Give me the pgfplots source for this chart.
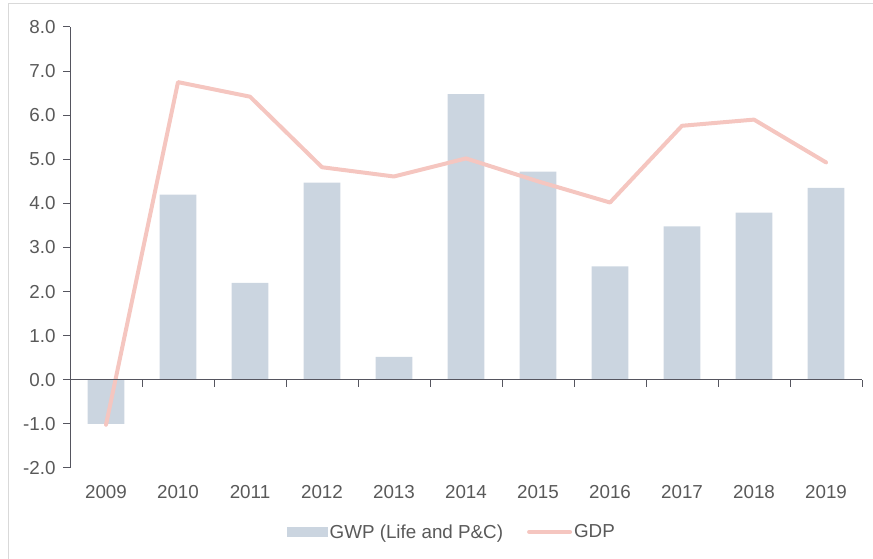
\documentclass[border=0pt]{standalone}
\usepackage{pgfplots}
\pgfplotsset{compat=1.18}
\usepackage{fontspec}
\setmainfont{Liberation Sans}
\definecolor{barcol}{HTML}{CBD5E0}
\definecolor{linecol}{HTML}{F5C6C0}
\definecolor{axcol}{HTML}{55555F}
\definecolor{txtcol}{HTML}{595959}
\definecolor{framecol}{HTML}{D9D9D9}
\begin{document}
\begin{tikzpicture}
\useasboundingbox (0pt,0pt) rectangle (873pt,559pt);
\draw[framecol, line width=1pt] (8.5pt,0pt) -- (8.5pt,555pt) -- (873pt,555pt);
\begin{axis}[
  at={(70pt,91pt)}, anchor=south west,
  scale only axis, width=792pt, height=441pt,
  xmin=-0.5, xmax=10.5, ymin=-2, ymax=8,
  axis y line*=left, axis x line*=bottom,
  x axis line style={draw=none},
  y axis line style={draw=axcol, line width=1pt},
  xtick={0,...,10},
  xticklabels={2009,2010,2011,2012,2013,2014,2015,2016,2017,2018,2019},
  x tick style={draw=none},
  ytick={-2,-1,0,1,2,3,4,5,6,7,8},
  y tick style={draw=axcol, line width=1pt},
  tick align=outside, major tick length=7pt,
  /pgf/number format/fixed, /pgf/number format/fixed zerofill,
  /pgf/number format/precision=1, /pgf/number format/assume math mode=true,
  ticklabel style={font=\fontsize{18.8}{21}\selectfont, text=txtcol},
  xticklabel style={yshift=-7pt},
  yticklabel style={xshift=-4pt},
  legend columns=2,
  legend style={draw=none, fill=none, at={(0.482,-0.145)}, anchor=center,
    font=\fontsize{18.8}{21}\selectfont, text=txtcol,
    /tikz/every even column/.append style={column sep=22pt},
    nodes={inner sep=2pt}},
  clip=false,
]
\addplot[ybar, bar width=0.51, fill=barcol, draw=none,
  legend image code/.code={\fill[barcol] (0pt,-5pt) rectangle (41pt,5pt);}]
  coordinates {(0,-1.0) (1,4.2) (2,2.2) (3,4.47) (4,0.52) (5,6.48) (6,4.72) (7,2.57) (8,3.48) (9,3.79) (10,4.35)};
\addlegendentry{GWP (Life and P\&C)}
\addplot[linecol, line width=4pt, line join=round, line cap=round, mark=none,
  legend image code/.code={\draw[linecol, line width=4pt, line cap=round] (1pt,0pt) -- (42pt,0pt);}]
  coordinates {(0,-1.02) (1,6.75) (2,6.42) (3,4.82) (4,4.61) (5,5.02) (6,4.5) (7,4.02) (8,5.76) (9,5.9) (10,4.93)};
\addlegendentry{GDP}
\end{axis}
\begin{axis}[
  at={(70pt,91pt)}, anchor=south west,
  scale only axis, width=792pt, height=441pt,
  xmin=-0.5, xmax=10.5, ymin=-2, ymax=8,
  axis x line=middle, axis y line=none,
  x axis line style={draw=axcol, line width=1pt, -},
  xtick={-0.5,0.5,...,10.5}, xticklabels={},
  x tick style={draw=axcol, line width=1pt},
  tick align=outside, major tick length=7pt,
  ytick=\empty,
]
\end{axis}
\end{tikzpicture}
\end{document}
